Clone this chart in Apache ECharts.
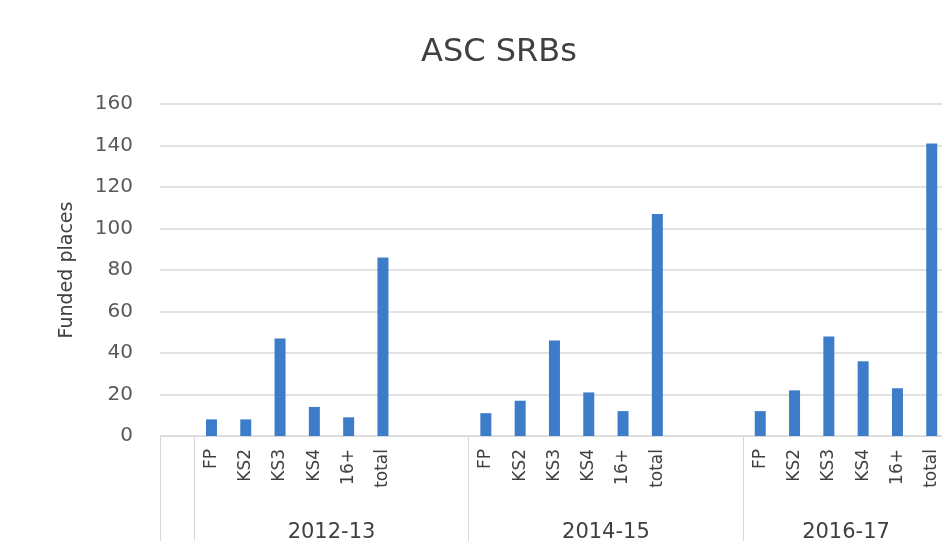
<!DOCTYPE html>
<html><head><meta charset="utf-8">
<script src="https://cdn.jsdelivr.net/npm/echarts@6/dist/echarts.min.js"></script>
<style>html,body{margin:0;padding:0;background:#fff}#c{width:942px;height:541px}</style>
</head><body><div id="c"></div>
<script>
const chartTitle = 'ASC SRBs';
const yAxisName = 'Funded places';
const subLabels = ['FP', 'KS2', 'KS3', 'KS4', '16+', 'total'];
const years = ['2012-13', '2014-15', '2016-17'];
const values2012 = [8, 8, 47, 14, 9, 86];
const values2014 = [11, 17, 46, 21, 12, 107];
const values2016 = [12, 22, 48, 36, 23, 141];
const yTicks = [0, 20, 40, 60, 80, 100, 120, 140, 160];

const groupValues = [values2012, values2014, values2016];
const categories = [''];
const data = [null];
const groupStart = [];
groupValues.forEach((vals, g) => {
  groupStart.push(categories.length);
  subLabels.forEach((s, i) => { categories.push(s); data.push(vals[i]); });
  if (g < groupValues.length - 1) {
    categories.push(''); data.push(null);
    categories.push(''); data.push(null);
  }
});
const nSlots = categories.length;
const groupCenter = {};
groupStart.forEach((s, g) => {
  const e = g + 1 < groupStart.length ? groupStart[g + 1] : nSlots;
  groupCenter[(s + e) / 2] = years[g];
});
const boundaryIdx = new Set([0].concat(groupStart));
const FONT = 'DejaVu Sans';

const chart = echarts.init(document.getElementById('c'), null, {renderer: 'canvas'});
chart.setOption({
  animation: false,
  backgroundColor: '#fff',
  title: {
    text: chartTitle, left: 494, top: 32, textAlign: 'center',
    textStyle: {fontFamily: FONT, fontSize: 32, fontWeight: 'normal', color: '#404040'}
  },
  grid: {left: 160, top: 104, height: 332, width: 34.3 * nSlots, containLabel: false, outerBoundsMode: 'none'},
  xAxis: [{
    type: 'category', data: categories, position: 'bottom',
    axisLine: {show: true, lineStyle: {color: '#d9d9d9', width: 1}},
    axisTick: {show: true, length: 110, interval: (i) => boundaryIdx.has(i), lineStyle: {color: '#d9d9d9'}},
    axisLabel: {interval: 0, rotate: 90, margin: 13, fontFamily: FONT, fontSize: 17, color: '#404040'},
    splitLine: {show: false}
  }, {
    type: 'value', min: 0, max: nSlots, interval: 1, position: 'bottom', offset: 78,
    axisLine: {show: false}, axisTick: {show: false}, splitLine: {show: false},
    axisLabel: {
      show: true, margin: 8, fontFamily: FONT, fontSize: 21, color: '#404040',
      formatter: (v) => groupCenter[v] || ''
    }
  }],
  yAxis: {
    type: 'value', min: yTicks[0], max: yTicks[yTicks.length - 1], interval: 20,
    name: yAxisName, nameLocation: 'middle', nameGap: 83, nameRotate: 90,
    nameTextStyle: {fontFamily: FONT, fontSize: 19, color: '#404040'},
    axisLine: {show: false}, axisTick: {show: false},
    axisLabel: {margin: 27, fontFamily: FONT, fontSize: 20, color: '#595959'},
    splitLine: {lineStyle: {color: '#d9d9d9', width: 1.5}}
  },
  series: [{
    type: 'bar', xAxisIndex: 0, data: data, barWidth: 11,
    itemStyle: {color: '#3d7cc9'}
  }]
});
</script></body></html>
